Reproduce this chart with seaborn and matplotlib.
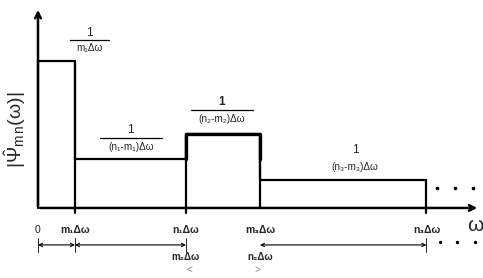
import matplotlib
matplotlib.use("Agg")
import matplotlib.pyplot as plt
import seaborn as sns
import pandas as pd

# ---- data ----
edges = [0, 1, 4, 6, 10.5]                 # band edges in units of Δω-ish
heights = [3.0, 1.0, 1.5, 0.57]            # |Ψ| level of each band
tick_labels = ["0", "m₁Δω", "n₁Δω", "m₃Δω", "n₃Δω"]
lower_labels = ["m₂Δω", "n₂Δω"]            # labels under n1 / m3
num_labels = ["1", "1", "1", "1"]
den_labels = ["m₁Δω", "(n₁-m₁)Δω", "(n₂-m₂)Δω", "(n₃-m₃)Δω"]

sns.set_style("white")
plt.rcParams["font.family"] = ["Liberation Sans", "DejaVu Sans"]
plt.rcParams["mathtext.fontset"] = "custom"
plt.rcParams["mathtext.rm"] = "Liberation Sans"
plt.rcParams["mathtext.it"] = "Liberation Sans"

fig = plt.figure(figsize=(4.83, 2.78), dpi=100)
ax = fig.add_axes([0, 0, 1, 1])
ax.set_xlim(-1.027, 12.03)
ax.set_ylim(-1.43, 4.245)
ax.axis("off")

df = pd.DataFrame({"w": edges, "h": heights + [heights[-1]]})
sns.lineplot(data=df, x="w", y="h", drawstyle="steps-post", color="black",
             lw=1.6, ax=ax, sort=False)
# emphasise the (n2-m2) band
ax.plot([edges[2], edges[2], edges[3], edges[3]],
        [heights[1], heights[2], heights[2], heights[1]], color="black", lw=2.4)

# vertical edges down to / slightly below the axis
for i, e in enumerate(edges):
    left = heights[i - 1] if i > 0 else 0
    right = heights[i] if i < len(heights) else 0
    top = max(left, right)
    bottom = -0.1 if i in (1, 2, 4) else 0
    ax.plot([e, e], [bottom, top], color="black", lw=1.6)

# axes with arrows
ax.annotate("", xy=(11.95, 0), xytext=(-0.02, 0),
            arrowprops=dict(arrowstyle="->", lw=1.8, color="black",
                            mutation_scale=10))
ax.annotate("", xy=(0, 4.1), xytext=(0, -0.02),
            arrowprops=dict(arrowstyle="->", lw=1.8, color="black",
                            mutation_scale=10))
ax.text(11.83, -0.36, "ω", fontsize=15, ha="center", va="center")
ax.text(-0.62, 1.6, r"$|\hat{\Psi}_{m\,n}(\omega)|$", fontsize=14,
        rotation=90, ha="center", va="center")

# dots continuing the function
for dx in (10.78, 11.27, 11.76):
    ax.plot(dx, 0.41, "o", color="black", ms=1.6)

# fractions above bands
frac_pos = [(1.40, 3.57, 3.43, 3.27, 1.05),
            (2.51, 1.59, 1.43, 1.24, 1.68),
            (4.97, 2.16, 2.00, 1.82, 1.68),
            (8.57, 1.18, None, 0.84, 0)]
for (fx, ny, by, dy, bw), n, d in zip(frac_pos, num_labels, den_labels):
    bold = d.startswith("(n₂")
    ax.text(fx, ny, n, fontsize=8.5, ha="center", va="center",
            fontweight="bold" if bold else "normal")
    if by is not None:
        ax.plot([fx - bw / 2, fx + bw / 2], [by, by], color="black", lw=0.9)
    ax.text(fx, dy, d, fontsize=7.2, ha="center", va="center")

# tick labels under the axis
for e, lab in zip(edges, tick_labels):
    ax.text(e, -0.45, lab, fontsize=7.5, ha="center", va="center",
            fontweight="bold" if lab != "0" else "normal")
ax.text(edges[2], -1.0, lower_labels[0], fontsize=7, ha="center",
        va="center", fontweight="bold")
ax.text(edges[3], -1.0, lower_labels[1], fontsize=7, ha="center",
        va="center", fontweight="bold")

# span arrows
ya = -0.755
for a, b in [(edges[0], edges[1]), (edges[1], edges[2]), (edges[3], edges[4])]:
    ax.annotate("", xy=(b, ya), xytext=(a, ya),
                arrowprops=dict(arrowstyle="<->", lw=0.8, color="black",
                                mutation_scale=6, shrinkA=0, shrinkB=0))
for e in (edges[0], edges[1], edges[2], edges[4]):
    ax.plot([e, e], [ya - 0.14, ya + 0.14], color="black", lw=0.6)
for dx in (10.86, 11.32, 11.81):
    ax.plot(dx, ya + 0.06, "o", color="black", ms=1.4)
ax.text(edges[2] + 0.08, -1.27, "<", fontsize=7, ha="center", va="center",
        color="#888888")
ax.text(edges[3] - 0.08, -1.27, ">", fontsize=7, ha="center", va="center",
        color="#888888")

fig.savefig("out.png", dpi=100)
